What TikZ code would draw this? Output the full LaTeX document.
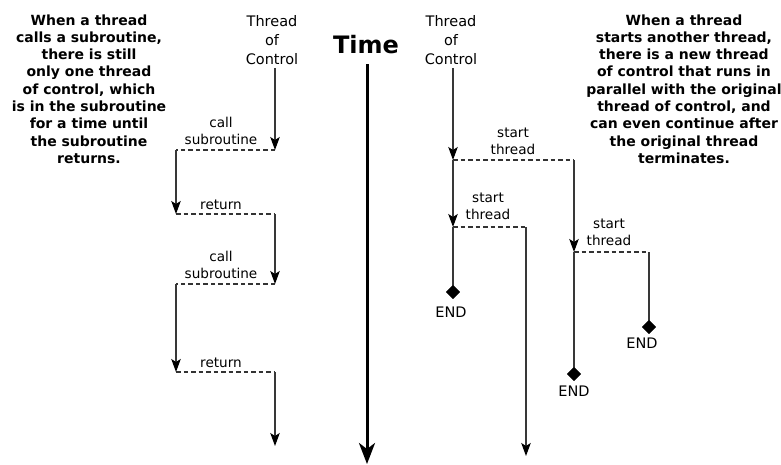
\documentclass[tikz,border=0pt]{standalone}
\usepackage{fontspec}
\setmainfont{DejaVu Sans}
\usetikzlibrary{arrows.meta,shapes.geometric}
\begin{document}
\begin{tikzpicture}[x=1pt,y=-1pt,
  flow/.style={draw=black!78,line width=1.2pt},
  arr/.style={flow,-{Stealth[length=13pt,width=9.5pt,inset=3pt,color=black]}},
  dsh/.style={draw=black!80,line width=1.2pt,dash pattern=on 4.5pt off 3pt},
  endmark/.style={diamond,fill=black,inner sep=0pt,minimum size=14pt},
  lbl/.style={font=\fontsize{13.6}{17}\selectfont,align=center,inner sep=0pt},
  head/.style={font=\fontsize{14.5}{19}\selectfont,align=center,inner sep=0pt},
  endlbl/.style={font=\fontsize{14.5}{17}\selectfont,inner sep=0pt},
  note/.style={font=\fontsize{14}{17.3}\selectfont\bfseries,align=center,inner sep=0pt}]
\useasboundingbox (0,0) rectangle (781,464);

% notes
\node[note] (noteL) at (89,89) {When a thread\\calls a subroutine,\\there is still\\only one thread\\of control, which\\is in the subroutine\\for a time until\\the subroutine\\returns.};
\node[note] (noteR) at (684,89) {When a thread\\starts another thread,\\there is a new thread\\of control that runs in\\parallel with the original\\thread of control, and\\can even continue after\\the original thread\\terminates.};

% headers
\node[head] (hL) at (272,40) {Thread\\of\\Control};
\node[head] (hR) at (451,40) {Thread\\of\\Control};
\node[font=\fontsize{24}{28}\selectfont\bfseries,inner sep=0pt] (time) at (366,45) {Time};

% time arrow
\coordinate (t0) at (367,64);
\coordinate (t1) at (367,464);
\draw[line width=3pt,-{Stealth[length=21pt,width=16pt,inset=6pt]}] (t0) -- (t1);

% left: subroutine calls
\coordinate (L0) at (275,68);
\coordinate (L1) at (275,150);
\coordinate (L2) at (176,150);
\coordinate (L3) at (176,214);
\coordinate (L4) at (275,214);
\coordinate (L5) at (275,284);
\coordinate (L6) at (176,284);
\coordinate (L7) at (176,372);
\coordinate (L8) at (275,372);
\coordinate (L9) at (275,446);
\draw[dsh] (L1) -- (L2);
\draw[dsh] (L3) -- (L4);
\draw[dsh] (L5) -- (L6);
\draw[dsh] (L7) -- (L8);
\draw[arr] (L0) -- (L1);
\draw[arr] (L2) -- (L3);
\draw[arr] (L4) -- (L5);
\draw[arr] (L6) -- (L7);
\draw[arr] (L8) -- (L9);
\node[lbl] (c1) at (221,131) {call\\subroutine};
\node[lbl] (r1) at (221,205) {return};
\node[lbl] (c2) at (221,265) {call\\subroutine};
\node[lbl] (r2) at (221,363) {return};

% right: threads
\coordinate (R0) at (453,68);
\coordinate (R1) at (453,160);
\coordinate (R2) at (453,227);
\node[endmark] (E1) at (453,292) {};
\coordinate (A1) at (574,160);
\coordinate (A2) at (574,252);
\node[endmark] (E2) at (574,374) {};
\coordinate (B1) at (526,227);
\coordinate (B2) at (526,456);
\coordinate (C1) at (649,252);
\node[endmark] (E3) at (649,327) {};

\draw[dsh] (R1) -- (A1);
\draw[dsh] (R2) -- (B1);
\draw[dsh] (A2) -- (C1);
\draw[arr] (R0) -- (R1);
\draw[arr] (R1) -- (R2);
\draw[flow] (R2) -- (E1.center);
\draw[arr] (B1) -- (B2);
\draw[arr] (A1) -- (A2);
\draw[flow] (A2) -- (E2.center);
\draw[flow] (C1) -- (E3.center);
\node[endmark] at (E1) {};
\node[endmark] at (E2) {};
\node[endmark] at (E3) {};

\node[lbl] (s1) at (513,141) {start\\thread};
\node[lbl] (s2) at (488,206) {start\\thread};
\node[lbl] (s3) at (609,232) {start\\thread};
\node[endlbl] (n1) at (451,312) {END};
\node[endlbl] (n2) at (574,391) {END};
\node[endlbl] (n3) at (642,343) {END};
\end{tikzpicture}
\end{document}
